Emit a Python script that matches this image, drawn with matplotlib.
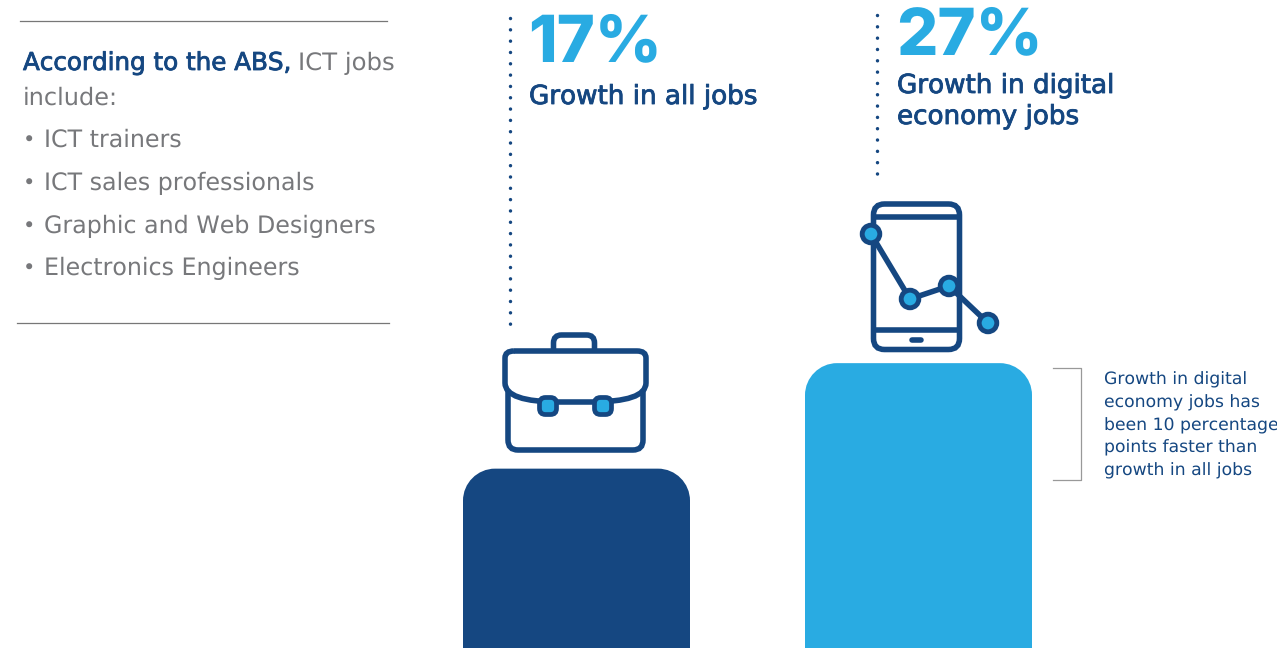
#!/usr/bin/env python3
# -*- coding: utf-8 -*-
import matplotlib
matplotlib.use("Agg")
import matplotlib.pyplot as plt
import matplotlib.patheffects as pe
from matplotlib.patches import Circle, FancyBboxPatch, PathPatch
from matplotlib.path import Path

plt.rcParams["text.hinting"] = "no_hinting"
plt.rcParams["text.kerning_factor"] = 6

categories = ["Growth in all jobs", "Growth in digital\neconomy jobs"]
growth = [17, 27]
job_examples = ["ICT trainers", "ICT sales professionals",
                "Graphic and Web Designers", "Electronics Engineers"]
note_lines = ["Growth in digital", "economy jobs has", "been 10 percentage",
              "points faster than", "growth in all jobs"]

NAVY = "#154781"
SKY = "#29ABE2"
GREY = "#77787B"
FONT = "DejaVu Sans"
W, H = 1277, 648
PX_PER_PCT = 10.55
# a touch of outline gives the regular face a medium weight
MEDIUM = [pe.withStroke(linewidth=0.6, foreground=NAVY)]


def px(size):
    # font sizes below are given in pixels, the figure is 100 dpi
    return size * 0.72


def rounded_bar(ax, x0, x1, value, radius, color):
    # bar with rounded top corners, y in percent, x in pixels
    ry = radius / PX_PER_PCT
    k = 0.45
    verts = [(x0, 0), (x0, value - ry),
             (x0, value - ry * k), (x0 + radius * k, value), (x0 + radius, value),
             (x1 - radius, value),
             (x1 - radius * k, value), (x1, value - ry * k), (x1, value - ry),
             (x1, 0), (x0, 0)]
    codes = [Path.MOVETO, Path.LINETO,
             Path.CURVE4, Path.CURVE4, Path.CURVE4,
             Path.LINETO,
             Path.CURVE4, Path.CURVE4, Path.CURVE4,
             Path.LINETO, Path.CLOSEPOLY]
    ax.add_patch(PathPatch(Path(verts, codes), facecolor=color, edgecolor="none"))


fig = plt.figure(figsize=(W / 100, H / 100), dpi=100)

# bars live on a percent scale
bar_ax = fig.add_axes([0, 0, 1, 1])
bar_ax.set_xlim(0, W)
bar_ax.set_ylim(0, H / PX_PER_PCT)
bar_ax.axis("off")
rounded_bar(bar_ax, 463, 690, growth[0], 32, NAVY)
rounded_bar(bar_ax, 805, 1032, growth[1], 32, SKY)

# everything else is placed in pixels, y down
ax = fig.add_axes([0, 0, 1, 1])
ax.set_xlim(0, W)
ax.set_ylim(H, 0)
ax.axis("off")
ax.patch.set_alpha(0)

# left panel
ax.plot([20, 387], [21, 21], color="#777777", lw=0.9)
ax.plot([17, 389], [323, 323], color="#777777", lw=0.9)
ax.text(23, 70, "According to the ABS,", color=NAVY, fontsize=px(24.6), family=FONT,
        va="baseline", path_effects=MEDIUM)
ax.text(298, 70, "ICT jobs", color=GREY, fontsize=px(24.4), family=FONT, va="baseline")
ax.text(23, 105, "include:", color=GREY, fontsize=px(24), family=FONT, va="baseline")
for y, job in zip([147, 190, 233, 275], job_examples):
    ax.text(23, y, "\u2022", color=GREY, fontsize=px(21), family=FONT, va="baseline")
    ax.text(44, y, job, color=GREY, fontsize=px(23.8), family=FONT, va="baseline")

# dotted leaders
ax.plot([510, 510], [18, 329], color=NAVY, lw=2.5, dash_capstyle="round",
        linestyle=(0, (0.01, 3.25)))
ax.plot([877, 877], [15, 179], color=NAVY, lw=2.5, dash_capstyle="round",
        linestyle=(0, (0.01, 3.25)))

# headline numbers
ax.text(528, 61, f"{growth[0]}%", color=SKY, fontsize=px(65), family="Inter",
        weight="heavy", va="baseline")
ax.text(896, 54, f"{growth[1]}%", color=SKY, fontsize=px(65), family="Inter",
        weight="heavy", va="baseline")
ax.text(529, 104, categories[0], color=NAVY, fontsize=px(26.2), family=FONT,
        va="baseline", path_effects=MEDIUM)
for y, line in zip([93, 124], categories[1].split("\n")):
    ax.text(897, y, line, color=NAVY, fontsize=px(26.2), family=FONT,
            va="baseline", path_effects=MEDIUM)

# bracket and side note
ax.plot([1053, 1081, 1081, 1053], [368, 368, 480, 480], color="#999999", lw=0.9)
for y, line in zip([384.5, 407, 430, 452.5, 475.5], note_lines):
    ax.text(1104, y, line, color=NAVY, fontsize=px(17.2), family=FONT, va="baseline")

# briefcase
LW = 4
ax.add_patch(FancyBboxPatch((553.5, 335), 41, 30, boxstyle="round,pad=0,rounding_size=8",
                            fc="none", ec=NAVY, lw=LW))
ax.add_patch(PathPatch(Path(
    [(508, 353), (643, 353), (643, 440), (643, 450), (633, 450), (518, 450), (508, 450),
     (508, 440), (508, 353)],
    [Path.MOVETO, Path.MOVETO, Path.LINETO, Path.CURVE3, Path.CURVE3, Path.LINETO,
     Path.CURVE3, Path.CURVE3, Path.LINETO]), fc="white", ec=NAVY, lw=LW, zorder=3))
ax.add_patch(PathPatch(Path(
    [(514, 351), (637, 351), (646, 351), (646, 358), (646, 383), (646, 402), (590, 402),
     (560, 402), (505, 402), (505, 383), (505, 358), (505, 351), (514, 351)],
    [Path.MOVETO, Path.LINETO, Path.CURVE3, Path.CURVE3, Path.LINETO, Path.CURVE3,
     Path.CURVE3, Path.LINETO, Path.CURVE3, Path.CURVE3, Path.LINETO, Path.CURVE3,
     Path.CURVE3]), fc="white", ec=NAVY, lw=LW, zorder=4))
for cx in [548, 603]:
    ax.add_patch(FancyBboxPatch((cx - 8.5, 397.5), 17, 17, boxstyle="round,pad=0,rounding_size=6",
                                fc=SKY, ec=NAVY, lw=3.4, zorder=5))

# phone with trend line
ax.add_patch(FancyBboxPatch((873.5, 204), 86, 145.5, boxstyle="round,pad=0,rounding_size=11",
                            fc="white", ec=NAVY, lw=LW, zorder=3))
ax.plot([873.5, 959.5], [216.5, 216.5], color=NAVY, lw=LW, solid_capstyle="butt", zorder=4)
ax.plot([873.5, 959.5], [330, 330], color=NAVY, lw=LW, solid_capstyle="butt", zorder=4)
ax.plot([912, 921], [340, 340], color=NAVY, lw=4, solid_capstyle="round", zorder=4)
nodes_x = [871, 910, 949, 988]
nodes_y = [234, 299, 286, 323]
ax.plot(nodes_x, nodes_y, color=NAVY, lw=LW, zorder=5)
for x, y in zip(nodes_x, nodes_y):
    ax.add_patch(Circle((x, y), 8.8, fc=SKY, ec=NAVY, lw=3.5, zorder=6))

fig.savefig("out.png", dpi=100)
